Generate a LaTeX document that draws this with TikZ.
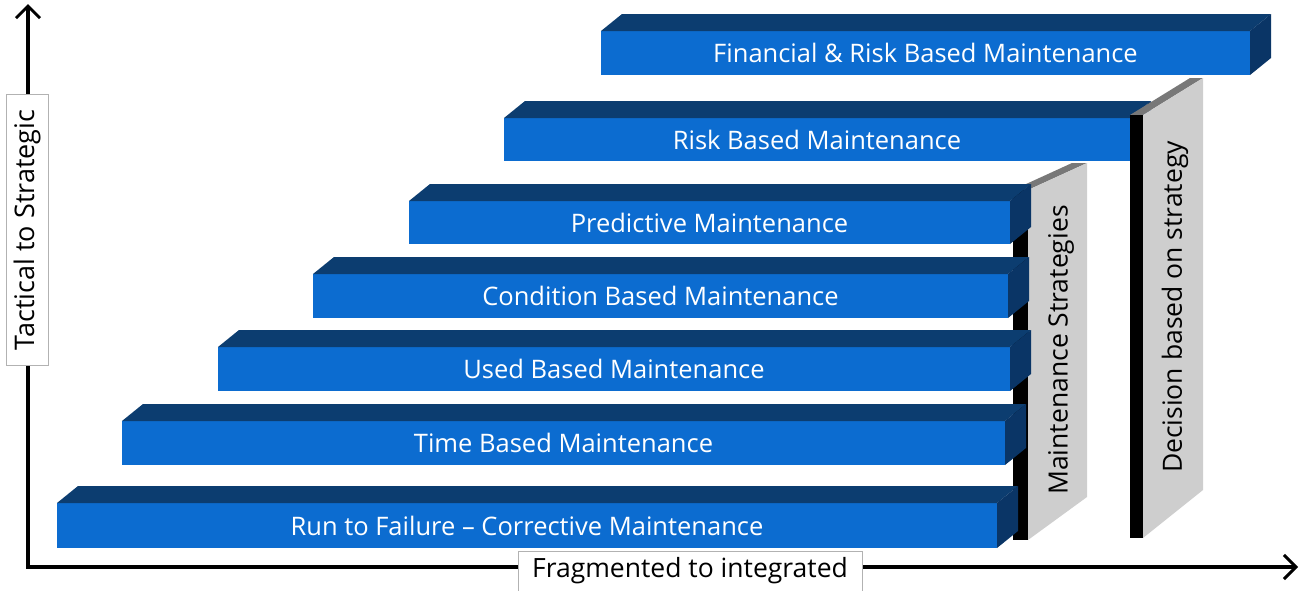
\documentclass[tikz,border=0pt]{standalone}
\usepackage{fontspec}
\setmainfont{Open Sans}
\usetikzlibrary{arrows.meta,calc}
\definecolor{frontc}{RGB}{12,108,208}
\definecolor{topc}{RGB}{12,61,112}
\definecolor{sidec}{RGB}{10,53,102}
\definecolor{panelc}{RGB}{206,206,206}
\definecolor{paneltop}{RGB}{120,120,120}
\tikzset{
  barfront/.style={fill=frontc, text=white, inner sep=0pt, outer sep=0pt,
    font=\fontsize{25.5}{30}\selectfont},
  bartop/.style={fill=topc},
  barside/.style={fill=sidec},
  panelface/.style={fill=panelc},
  panelfront/.style={fill=black},
  paneltopface/.style={fill=paneltop},
  paneltext/.style={rotate=90, text=black, inner sep=0pt,
    font=\fontsize{26.5}{31}\selectfont},
  axisline/.style={line width=4pt, line join=miter,
    {Straight Barb[length=12pt,width=24pt,line width=3pt]}-{Straight Barb[length=12pt,width=24pt,line width=3pt]}},
  axislabel/.style={fill=white, draw=gray!60, line width=0.7pt, inner sep=0pt, text=black}
}
% name, left, right, top, bottom, text
\newcommand\mybar[6]{%
  \node[barfront, minimum width={(#3-#2)*1pt}, minimum height={(#5-#4)*1pt}]
    (#1) at ({(#2+#3)/2},{(#4+#5)/2}) {#6};
  \fill[bartop] (#1.north west) -- ++(21,-17) -- ([shift={(21,-17)}]#1.north east)
    -- (#1.north east) -- cycle;
  \fill[barside] (#1.north east) -- ([shift={(21,-17)}]#1.north east)
    -- ([shift={(21,-17)}]#1.south east) -- (#1.south east) -- cycle;
}
\begin{document}
\begin{tikzpicture}[x=1pt,y=-1pt]
\useasboundingbox (0,0) rectangle (1301,590);

% axes
\coordinate (o) at (28,567);
\coordinate (ytip) at (28,4);
\coordinate (xtip) at (1298,567);
\draw[axisline] (ytip) -- (o) -- (xtip);
\node[axislabel, rotate=90, minimum width=271pt, minimum height=42pt,
  font=\fontsize{27}{31}\selectfont] (ylab) at (27,230) {Tactical to Strategic};
\node[axislabel, minimum width=344pt, minimum height=40pt,
  font=\fontsize{26.5}{31}\selectfont] (xlab) at (690,571) {Fragmented to integrated};

% panel: maintenance strategies
\fill[paneltopface] (1013,190) -- (1072,163) -- (1087,163) -- (1028,190) -- cycle;
\fill[panelfront] (1013,190) rectangle (1028,540);
\fill[panelface] (1028,540) -- (1028,190) -- (1087,163) -- (1087,497) -- cycle;
\node[paneltext] (ms) at (1061,350) {Maintenance Strategies};

% bars
\mybar{b1}{57}{997}{503}{548}{Run to Failure -- Corrective Maintenance}
\mybar{b2}{122}{1005}{421}{465}{Time Based Maintenance}
\mybar{b3}{218}{1010}{347}{391}{Used Based Maintenance}
\mybar{b4}{313}{1008}{274}{318}{Condition Based Maintenance}
\mybar{b5}{409}{1010}{201}{244}{Predictive Maintenance}
\mybar{b6}{504}{1130}{118}{161}{Risk Based Maintenance}

% panel: decision
\fill[paneltopface] (1130,115) -- (1190,78) -- (1203,78) -- (1143,115) -- cycle;
\fill[panelfront] (1130,115) rectangle (1143,538);
\fill[panelface] (1143,538) -- (1143,115) -- (1203,78) -- (1203,490) -- cycle;
\node[paneltext] (dec) at (1175,307) {Decision based on strategy};

\mybar{b7}{601}{1250}{31}{75}{Financial \& Risk Based Maintenance}
\end{tikzpicture}
\end{document}
